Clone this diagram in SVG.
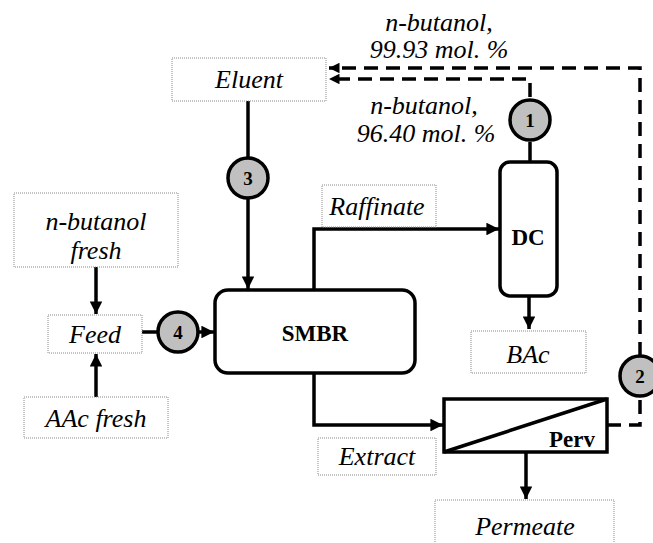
<svg xmlns="http://www.w3.org/2000/svg" width="653" height="543" viewBox="0 0 653 543">
  <style>
    .lbl { fill: #fff; stroke: #8a8a8a; stroke-width: 1; stroke-dasharray: 1 1; }
    .unit { fill: #fff; stroke: #000; stroke-width: 3.5; }
    .num { fill: #c0c0c0; stroke: #000; stroke-width: 3.5; }
    .flow { fill: none; stroke: #000; stroke-width: 3.5; }
    .recycle { fill: none; stroke: #000; stroke-width: 3.5; stroke-dasharray: 14 8; }
    .it { font-family: "Liberation Serif", "Times New Roman", serif; font-style: italic; font-size: 26px; fill: #000; text-anchor: middle; }
    .bd { font-family: "Liberation Serif", "Times New Roman", serif; font-weight: bold; font-size: 23px; fill: #000; text-anchor: middle; }
    .nt { font-family: "Liberation Serif", "Times New Roman", serif; font-weight: bold; font-size: 19px; fill: #000; text-anchor: middle; }
  </style>
  <defs>
    <marker id="arr" viewBox="0 0 10 10" refX="10" refY="5" markerWidth="4" markerHeight="3.6" markerUnits="strokeWidth" orient="auto">
      <path d="M0,0 L10,5 L0,10 z" fill="#000"/>
    </marker>
    <marker id="arrs" viewBox="0 0 10 10" refX="10" refY="5" markerWidth="3.2" markerHeight="3" markerUnits="strokeWidth" orient="auto">
      <path d="M0,0 L10,5 L0,10 z" fill="#000"/>
    </marker>
  </defs>

  <!-- connectors -->
  <g id="connectors">
    <!-- eluent to SMBR via 3 -->
    <line class="flow" x1="248" y1="101" x2="248" y2="158"/>
    <line class="flow" x1="248" y1="198" x2="248" y2="289" marker-end="url(#arr)"/>
    <!-- fresh streams into feed -->
    <line class="flow" x1="96" y1="267" x2="96" y2="314" marker-end="url(#arr)"/>
    <line class="flow" x1="96" y1="397" x2="96" y2="354" marker-end="url(#arr)"/>
    <!-- feed to SMBR via 4 -->
    <line class="flow" x1="142" y1="332" x2="158" y2="332"/>
    <line class="flow" x1="198" y1="332" x2="214" y2="332" marker-end="url(#arr)"/>
    <!-- raffinate to DC -->
    <polyline class="flow" points="314,290 314,229 499,229" marker-end="url(#arr)"/>
    <!-- DC bottoms -->
    <line class="flow" x1="529" y1="296" x2="529" y2="329" marker-end="url(#arr)"/>
    <!-- DC top to 1 -->
    <line class="flow" x1="530" y1="142" x2="530" y2="162"/>
    <!-- extract to pervaporation -->
    <polyline class="flow" points="314,373 314,425 443,425" marker-end="url(#arr)"/>
    <!-- permeate -->
    <line class="flow" x1="526" y1="452" x2="526" y2="499" marker-end="url(#arr)"/>
    <!-- recycles to eluent -->
    <polyline class="recycle" points="530,97 530,79 329,79" marker-end="url(#arrs)"/>
    <polyline class="recycle" points="607,425 640,425 640,397"/>
    <polyline class="recycle" points="640,356 640,68 329,68" marker-end="url(#arrs)"/>
  </g>

  <g id="eluent">
    <rect class="lbl" x="172" y="58" width="154" height="43"/>
    <text class="it" x="249" y="88">Eluent</text>
  </g>
  <g id="nbutanol-fresh">
    <rect class="lbl" x="14" y="193" width="164" height="74"/>
    <text class="it" x="96" y="230">n-butanol</text>
    <text class="it" x="96" y="259">fresh</text>
  </g>
  <g id="feed">
    <rect class="lbl" x="48" y="315" width="94" height="38"/>
    <text class="it" x="95" y="343">Feed</text>
  </g>
  <g id="aac-fresh">
    <rect class="lbl" x="24" y="397" width="144" height="41"/>
    <text class="it" x="96" y="427">AAc fresh</text>
  </g>
  <g id="smbr">
    <rect class="unit" x="215" y="290" width="200" height="83" rx="13"/>
    <text class="bd" x="315" y="341">SMBR</text>
  </g>
  <g id="raffinate">
    <rect class="lbl" x="322" y="185" width="114" height="42"/>
    <text class="it" x="377" y="215">Raffinate</text>
  </g>
  <g id="dc">
    <rect class="unit" x="500" y="162" width="57" height="134" rx="10"/>
    <text class="bd" x="528" y="245">DC</text>
  </g>
  <g id="bac">
    <rect class="lbl" x="471" y="331" width="115" height="42"/>
    <text class="it" x="528" y="363">BAc</text>
  </g>
  <g id="extract">
    <rect class="lbl" x="318" y="438" width="118" height="37"/>
    <text class="it" x="377" y="465">Extract</text>
  </g>
  <g id="perv">
    <rect class="unit" x="444" y="399" width="163" height="53"/>
    <line x1="444" y1="452" x2="607" y2="399" stroke="#000" stroke-width="3.5"/>
    <text class="bd" x="572" y="447">Perv</text>
  </g>
  <g id="permeate">
    <rect class="lbl" x="435" y="500" width="179" height="48"/>
    <text class="it" x="525" y="535">Permeate</text>
  </g>

  <g id="stream-1">
    <circle class="num" cx="530" cy="120" r="20"/>
    <text class="nt" x="530" y="127">1</text>
  </g>
  <g id="stream-2">
    <circle class="num" cx="640" cy="376" r="20"/>
    <text class="nt" x="640" y="383">2</text>
  </g>
  <g id="stream-3">
    <circle class="num" cx="248" cy="178" r="20"/>
    <text class="nt" x="248" y="185">3</text>
  </g>
  <g id="stream-4">
    <circle class="num" cx="178" cy="332" r="20"/>
    <text class="nt" x="178" y="339">4</text>
  </g>

  <g id="recycle-labels">
    <text class="it" x="439" y="31">n-butanol,</text>
    <text class="it" x="439" y="58">99.93 mol. %</text>
    <text class="it" x="424" y="114">n-butanol,</text>
    <text class="it" x="426" y="142">96.40 mol. %</text>
  </g>
</svg>
